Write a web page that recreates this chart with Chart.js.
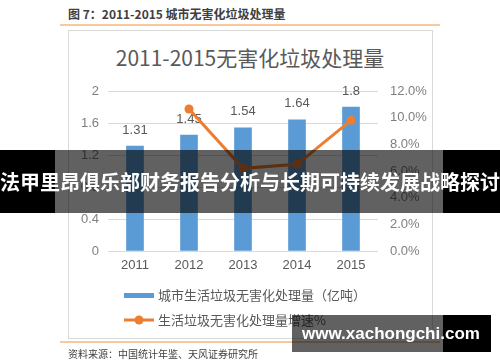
<!DOCTYPE html>
<html>
<head>
<meta charset="utf-8">
<script src="https://cdn.jsdelivr.net/npm/chart.js@4/dist/chart.umd.min.js"></script>
<style>
  body { margin: 0; background: #fff; width: 500px; height: 362px; overflow: hidden; position: relative; font-family: "Noto Sans CJK SC", "Liberation Sans", sans-serif; }
  #wrap { position: absolute; left: 0; top: 0; width: 500px; height: 362px; }
  .abs { position: absolute; }
</style>
</head>
<body>
<!-- cadre du graphique -->
<div class="abs" style="left:68px;top:30px;width:363px;height:307px;border:1px solid #d9d9d9;"></div>
<div class="abs" style="left:68px;top:5px;font-size:12px;font-weight:bold;color:#404040;line-height:18px;">图 7：2011-2015 城市无害化垃圾处理量</div>
<div class="abs" style="left:60px;top:24px;width:380px;height:2px;background:#f8c8a0;"></div>
<div class="abs" style="left:0;top:43px;width:500px;text-align:center;font-size:21px;color:#595959;line-height:28px;">2011-2015无害化垃圾处理量</div>

<div id="wrap"><canvas id="chart" width="500" height="362"></canvas></div>

<div class="abs" style="left:60px;top:341px;width:380px;height:2px;background:#f8c8a0;"></div>
<div class="abs" style="left:68px;top:346px;font-size:10px;color:#404040;line-height:16px;">资料来源：中国统计年鉴、天风证券研究所</div>

<!-- bandeau -->
<div class="abs" style="left:0;top:150px;width:55px;height:63px;background:#000;"></div>
<div class="abs" style="left:55px;top:150px;width:388px;height:63px;background:rgba(0,0,0,0.62);"></div>
<div class="abs" style="left:443px;top:150px;width:57px;height:63px;background:#000;"></div>
<div class="abs" style="left:0;top:150px;width:500px;height:63px;line-height:63px;text-align:center;color:#fff;font-size:20px;font-weight:bold;white-space:nowrap;">法甲里昂俱乐部财务报告分析与长期可持续发展战略探讨</div>

<!-- filigrane -->
<div class="abs" style="left:292px;top:315px;width:151px;height:37px;background:rgba(0,0,0,0.62);"></div>
<div class="abs" style="left:443px;top:315px;width:48px;height:37px;background:#000;"></div>
<div class="abs" style="left:302px;top:315px;height:37px;line-height:37px;color:#fff;font-size:17px;font-weight:bold;font-family:'Liberation Sans',sans-serif;white-space:nowrap;">www.xachongchi.com</div>

<script>
// données
const years = ['2011', '2012', '2013', '2014', '2015']
const volumes = [1.31, 1.45, 1.54, 1.64, 1.8]          // 亿吨
const growth = [null, 10.65, 6.2, 6.5, 9.8]            // %
const barLabel = '城市生活垃圾无害化处理量（亿吨）'
const lineLabel = '生活垃圾无害化处理量增速%'

const blue = '#5b9bd5'
const orange = '#ed7d31'
const tickFont = { family: 'Liberation Sans', size: 13 }

// étiquettes au-dessus des barres (dessinées avant la courbe)
const barValues = {
  id: 'barValues',
  afterDatasetDraw(chart, args) {
    if (args.index !== 0) return
    const ctx = chart.ctx
    ctx.save()
    ctx.font = '13px "Liberation Sans"'
    ctx.fillStyle = '#595959'
    ctx.textAlign = 'center'
    ctx.textBaseline = 'middle'
    args.meta.data.forEach(function (bar, i) {
      ctx.fillText(String(volumes[i]), bar.x, bar.y - 16)
    })
    ctx.restore()
  }
}

// légende sur deux lignes, alignée à gauche
const customLegend = {
  id: 'customLegend',
  afterDraw(chart) {
    const ctx = chart.ctx
    const x0 = 124
    ctx.save()
    ctx.font = '13px "Noto Sans CJK SC"'
    ctx.fillStyle = '#595959'
    ctx.textBaseline = 'middle'
    const ds = chart.data.datasets
    // barres
    ctx.fillStyle = ds[0].backgroundColor
    ctx.fillRect(x0, 293, 30, 5)
    ctx.fillStyle = '#595959'
    ctx.fillText(ds[0].label, x0 + 34, 295)
    // courbe
    ctx.strokeStyle = ds[1].borderColor
    ctx.lineWidth = 3
    ctx.beginPath()
    ctx.moveTo(x0, 320)
    ctx.lineTo(x0 + 30, 320)
    ctx.stroke()
    ctx.fillStyle = ds[1].borderColor
    ctx.beginPath()
    ctx.arc(x0 + 15, 320, 4.5, 0, Math.PI * 2)
    ctx.fill()
    ctx.fillStyle = '#595959'
    ctx.fillText(ds[1].label, x0 + 34, 320)
    ctx.restore()
  }
}

new Chart(document.getElementById('chart'), {
  type: 'bar',
  data: {
    labels: years,
    datasets: [
      {
        label: barLabel,
        data: volumes,
        backgroundColor: blue,
        barThickness: 17,
        yAxisID: 'y',
        order: 1
      },
      {
        type: 'line',
        label: lineLabel,
        data: growth,
        borderColor: orange,
        backgroundColor: orange,
        borderWidth: 3,
        pointRadius: 4.5,
        pointBackgroundColor: orange,
        pointBorderWidth: 0,
        yAxisID: 'y1',
        order: 0
      }
    ]
  },
  options: {
    responsive: false,
    animation: false,
    layout: { padding: { left: 60, right: 72, top: 91, bottom: 81 } },
    plugins: {
      legend: { display: false },
      title: { display: false },
      tooltip: { enabled: false }
    },
    scales: {
      x: {
        grid: { display: false, drawTicks: false },
        border: { display: false },
        ticks: { color: '#595959', font: tickFont, padding: 7 },
        afterFit: function (s) { s.height = 30 }
      },
      y: {
        position: 'left',
        min: 0,
        max: 2,
        ticks: {
          stepSize: 0.4,
          color: '#7f7f7f',
          font: tickFont,
          padding: 9,
          callback: function (v) { return String(+v.toFixed(1)) }
        },
        grid: { color: '#d9d9d9', drawTicks: false },
        border: { display: false },
        afterFit: function (s) { s.width = 48 }
      },
      y1: {
        position: 'right',
        min: 0,
        max: 12,
        ticks: {
          stepSize: 2,
          color: '#7f7f7f',
          font: tickFont,
          padding: 12,
          callback: function (v) { return v.toFixed(1) + '%' }
        },
        grid: { display: false, drawTicks: false },
        border: { display: false },
        afterFit: function (s) { s.width = 50 }
      }
    }
  },
  plugins: [barValues, customLegend]
})
</script>
</body>
</html>
